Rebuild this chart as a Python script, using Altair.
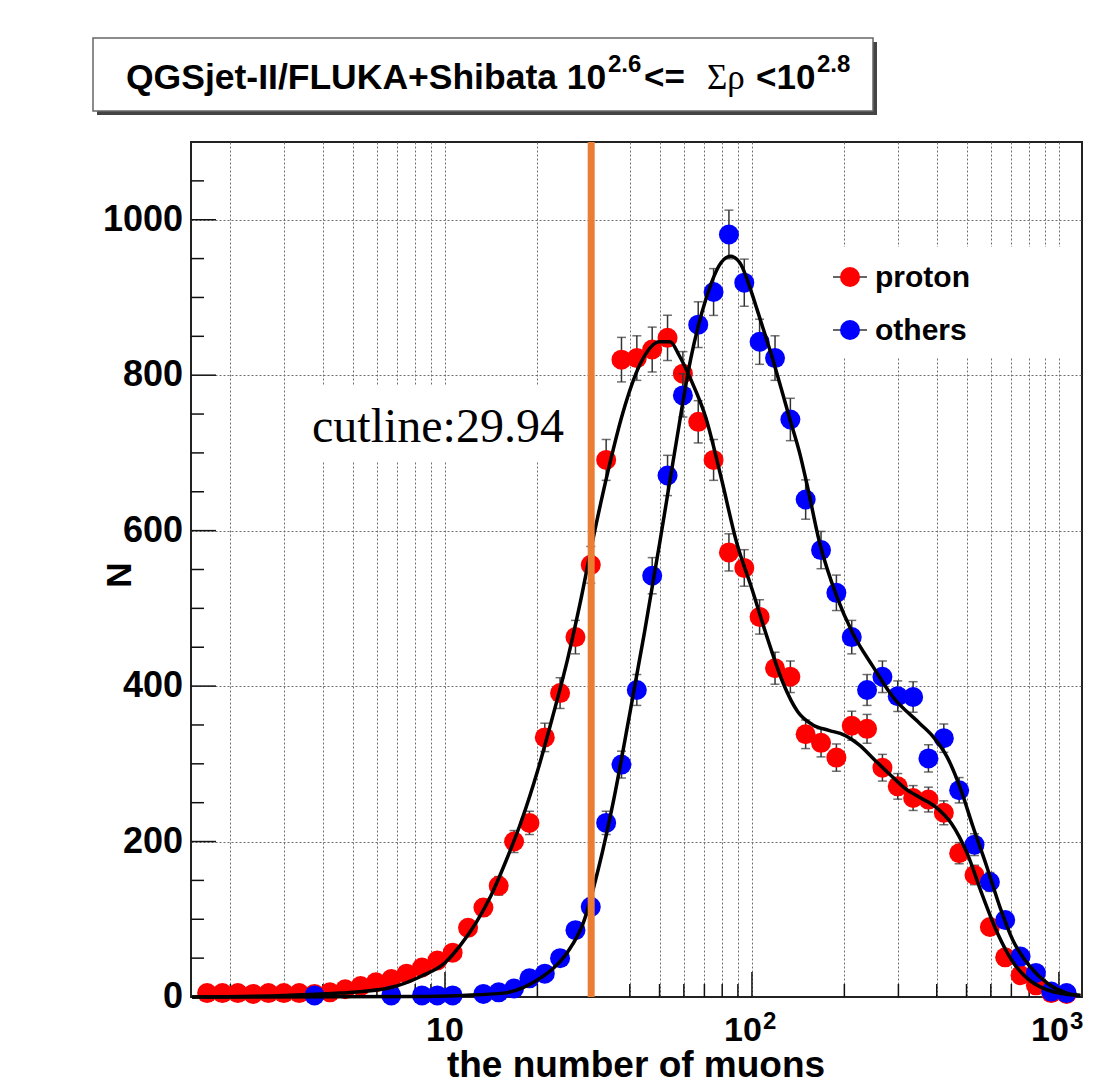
import altair as alt
import pandas as pd

# ---------------- data ----------------
bin_centers = [1.679, 1.884, 2.114, 2.371, 2.661, 2.985, 3.350, 3.758, 4.217, 4.732,
               5.309, 5.957, 6.683, 7.499, 8.414, 9.441,
               10.59, 11.89, 13.34, 14.96, 16.79, 18.84, 21.14, 23.71, 26.61, 29.85,
               33.50, 37.58, 42.17, 47.32, 53.09, 59.57, 66.83, 74.99, 84.14, 94.41,
               105.9, 118.9, 133.4, 149.6, 167.9, 188.4, 211.4, 237.1, 266.1, 298.5,
               335.0, 375.8, 421.7, 473.2, 530.9, 595.7, 668.3, 749.9, 841.4, 944.1,
               1059.0]

proton_counts = [5, 5, 5, 4, 5, 5, 5, 4, 6, 10,
                 14, 19, 23, 30, 38, 47,
                 57, 89, 115, 143, 200, 224, 334, 391, 463, 556,
                 691, 820, 822, 833, 848, 802, 740, 691, 572, 552,
                 489, 423, 412, 338, 327, 308, 349, 345, 295, 271,
                 256, 254, 237, 185, 157, 90, 51, 28, 15, 5,
                 4]

others_counts = [None, None, None, None, None, None, None, 2, None, None,
                 None, None, 2, None, 2, 2,
                 2, None, 4, 6, 11, 24, 30, 50, 86, 116,
                 224, 299, 395, 542, 671, 774, 865, 907, 981, 919,
                 843, 822, 743, 640, 575, 520, 463, 395, 412, 387,
                 386, 307, 333, 266, 196, 148, 99, 52, 31, 7,
                 5]

proton_fit_x = [1.5, 3.0, 4.55, 6.62, 8.4, 10.0, 11.2, 12.6, 14.1, 15.8, 17.8, 20.0,
                22.4, 25.1, 27.5, 30.2, 33.9, 38.0, 43.2, 50.1, 54.1, 58.0, 63.1,
                70.8, 79.4, 89.1, 100, 112, 126, 141, 158, 178, 200, 224, 251, 282,
                316, 355, 398, 447, 501, 562, 631, 708, 794, 891, 1000, 1175]
proton_fit_n = [0, 2, 5, 12, 27, 44, 66, 95, 130, 175, 228, 290,
                360, 435, 505, 585, 675, 752, 814, 843, 843, 825, 795,
                745, 668, 585, 525, 463, 405, 367, 350, 343, 337, 324, 305, 286,
                268, 256, 244, 223, 186, 132, 82, 45, 23, 11, 5, 2]

others_fit_x = [1.5, 8.0, 11.4, 15.5, 20.0, 22.4, 25.1, 28.2, 31.6, 35.5, 39.8, 44.7,
                50.1, 56.2, 63.1, 70.8, 79.4, 85.1, 91.2, 100, 104, 117, 133, 143,
                151, 166, 189, 213, 248, 288, 352, 389, 432, 476, 525, 583, 642,
                708, 805, 915, 1062, 1175]
others_fit_n = [0, 0.5, 2, 5, 22, 36, 58, 95, 165, 255, 360, 470,
                585, 705, 820, 898, 945, 953, 945, 905, 884, 820, 743, 700,
                660, 585, 515, 468, 425, 386, 352, 335, 309, 270, 219, 167, 116,
                73, 39, 18, 5, 2]

cut_value = 29.94
series_names = ["proton", "others"]
series_colors = ["#FF0000", "#0000FF"]

x_grid = [2, 3, 4, 5, 6, 7, 8, 9, 10, 20, 30, 40, 50, 60, 70, 80, 90,
          100, 200, 300, 400, 500, 600, 700, 800, 900, 1000]
x_major = [10, 100, 1000]
x_minor = [2, 3, 4, 5, 6, 7, 8, 9, 20, 30, 40, 50, 60, 70, 80, 90,
           200, 300, 400, 500, 600, 700, 800, 900]
x_label_plain = [10]
x_label_supbase = [100, 1000]
x_label_sup = ["2", "3"]
y_major = [0, 200, 400, 600, 800, 1000]
y_labels = ["0", "200", "400", "600", "800", "1000"]
y_minor = [50, 100, 150, 250, 300, 350, 450, 500, 550, 650, 700, 750,
           850, 900, 950, 1050]

title_main = "QGSjet-II/FLUKA+Shibata 10"
title_sup1 = "2.6"
title_mid = "<="
title_greek = "\u03a3\u03c1"
title_end = "<10"
title_sup2 = "2.8"
x_title = "the number of muons"
y_title = "N"

# ---------------- styling ----------------
W, H = 891, 855
SANS = "Liberation Sans"
SERIF = "Liberation Serif"
X_SCALE = alt.Scale(type="log", domain=[1.488, 1189], nice=False)
Y_SCALE = alt.Scale(domain=[0, 1100], nice=False, zero=False)
X_AXIS = alt.Axis(values=x_grid, grid=True, gridDash=[2, 2], gridColor="#6e6e6e",
                  gridWidth=1, labels=False, ticks=False, domain=False, title=None)
Y_AXIS = alt.Axis(values=y_major[1:], grid=True, gridDash=[2, 2], gridColor="#6e6e6e",
                  gridWidth=1, labels=False, ticks=False, domain=False, title=None)


def xq(f):
    return alt.X(f"{f}:Q", scale=X_SCALE, axis=X_AXIS)


def yq(f):
    return alt.Y(f"{f}:Q", scale=Y_SCALE, axis=Y_AXIS)


def series_df(counts):
    rows = [{"x": x, "N": n} for x, n in zip(bin_centers, counts) if n is not None]
    return pd.DataFrame(rows)


one = pd.DataFrame({"k": [0]})
MARKER = 400

layers = []

# white boxes behind the text / legend (hide grid)
layers.append(alt.Chart(one).mark_rect(color="white").encode(
    x=alt.value(125), x2=alt.value(397), y=alt.value(244), y2=alt.value(320)))
layers.append(alt.Chart(one).mark_rect(color="white").encode(
    x=alt.value(634), x2=alt.value(885), y=alt.value(105), y2=alt.value(215)))

# ticks (inside the frame)
layers.append(alt.Chart(pd.DataFrame({"v": y_major})).mark_rule(color="#111", strokeWidth=1.5).encode(
    y=yq("v"), x=alt.value(0), x2=alt.value(25)))
layers.append(alt.Chart(pd.DataFrame({"v": y_minor})).mark_rule(color="#111", strokeWidth=1.5).encode(
    y=yq("v"), x=alt.value(0), x2=alt.value(13)))
layers.append(alt.Chart(pd.DataFrame({"v": x_major})).mark_rule(color="#111", strokeWidth=1.5).encode(
    x=xq("v"), y=alt.value(H - 25), y2=alt.value(H)))
layers.append(alt.Chart(pd.DataFrame({"v": x_minor})).mark_rule(color="#111", strokeWidth=1.5).encode(
    x=xq("v"), y=alt.value(H - 13), y2=alt.value(H)))

# data: error bars + markers for each series
for name, counts, color in zip(series_names, [proton_counts, others_counts], series_colors):
    base = alt.Chart(series_df(counts)).transform_calculate(
        lo="datum.N - sqrt(datum.N)", hi="datum.N + sqrt(datum.N)")
    layers.append(base.mark_rule(color="#333", strokeWidth=1.5).encode(
        x=xq("x"), y=yq("lo"), y2=alt.Y2("hi")))
    layers.append(base.mark_tick(orient="horizontal", size=9, thickness=1.5, color="#333").encode(
        x=xq("x"), y=yq("lo")))
    layers.append(base.mark_tick(orient="horizontal", size=9, thickness=1.5, color="#333").encode(
        x=xq("x"), y=yq("hi")))
    layers.append(base.mark_circle(size=MARKER, color=color, opacity=1).encode(
        x=xq("x"), y=yq("N")))

# fit curves
for fx, fn in [(proton_fit_x, proton_fit_n), (others_fit_x, others_fit_n)]:
    layers.append(alt.Chart(pd.DataFrame({"x": fx, "N": fn})).mark_line(
        color="black", strokeWidth=3.5, interpolate="monotone").encode(x=xq("x"), y=yq("N")))

# cut line
layers.append(alt.Chart(pd.DataFrame({"x": [cut_value]})).mark_rule(
    color="#EB7D32", strokeWidth=7).encode(x=xq("x")))
layers.append(alt.Chart(one).mark_text(
    font=SERIF, fontSize=48, align="left", baseline="alphabetic", color="black",
    text=f"cutline:{cut_value}").encode(x=alt.value(121), y=alt.value(300)))

# axis labels
layers.append(alt.Chart(pd.DataFrame({"v": y_major, "t": y_labels})).mark_text(
    font=SANS, fontSize=36, fontWeight="bold", align="right", baseline="middle", color="black").encode(
    y=yq("v"), x=alt.value(-8), text="t:N"))
layers.append(alt.Chart(pd.DataFrame({"v": x_label_plain})).mark_text(
    font=SANS, fontSize=34, fontWeight="bold", align="center", baseline="alphabetic",
    color="black", text="10").encode(x=xq("v"), y=alt.value(899)))
layers.append(alt.Chart(pd.DataFrame({"v": x_label_supbase})).mark_text(
    font=SANS, fontSize=34, fontWeight="bold", align="center", baseline="alphabetic",
    color="black", text="10", dx=-9).encode(x=xq("v"), y=alt.value(899)))
layers.append(alt.Chart(pd.DataFrame({"v": x_label_supbase, "t": x_label_sup})).mark_text(
    font=SANS, fontSize=24, fontWeight="bold", align="left", baseline="alphabetic",
    color="black", dx=11).encode(x=xq("v"), y=alt.value(887), text="t:N"))

# axis titles
layers.append(alt.Chart(one).mark_text(
    font=SANS, fontSize=37, fontWeight="bold", align="center", baseline="alphabetic",
    color="black", text=x_title).encode(x=alt.value(445), y=alt.value(935)))
layers.append(alt.Chart(one).mark_text(
    font=SANS, fontSize=35, fontWeight="bold", align="center", baseline="middle",
    color="black", angle=270, text=y_title).encode(x=alt.value(-71), y=alt.value(433)))

# legend
for i, (name, color) in enumerate(zip(series_names, series_colors)):
    yy = 135 + 53 * i
    leg = alt.Chart(pd.DataFrame({"t": [name]}))
    layers.append(leg.mark_rule(color="#333", strokeWidth=1.5).encode(
        x=alt.value(642), x2=alt.value(676), y=alt.value(yy)))
    layers.append(leg.mark_circle(size=MARKER, color=color, opacity=1).encode(
        x=alt.value(659), y=alt.value(yy)))
    layers.append(leg.mark_text(font=SANS, fontSize=30, fontWeight="bold", align="left",
                                baseline="middle", color="black").encode(
        x=alt.value(684), y=alt.value(yy + 1), text="t:N"))

# title box
layers.append(alt.Chart(one).mark_rect(color="#444").encode(
    x=alt.value(-94), x2=alt.value(686), y=alt.value(-100), y2=alt.value(-27)))
layers.append(alt.Chart(one).mark_rect(fill="white", stroke="#666", strokeWidth=1.5).encode(
    x=alt.value(-98), x2=alt.value(682), y=alt.value(-104), y2=alt.value(-31)))
title_pieces = [
    (title_main, -65, -53, 35.5, SANS, "bold"),
    (title_sup1, 417, -70, 24, SANS, "bold"),
    (title_mid, 453, -53, 35, SANS, "bold"),
    (title_greek, 516, -53, 35, SERIF, "normal"),
    (title_end, 565, -53, 35, SANS, "bold"),
    (title_sup2, 626, -70, 24, SANS, "bold"),
]
for txt, px, py, fs, fnt, fw in title_pieces:
    layers.append(alt.Chart(pd.DataFrame({"t": [txt]})).mark_text(
        font=fnt, fontSize=fs, fontWeight=fw, align="left", baseline="alphabetic",
        color="black").encode(x=alt.value(px), y=alt.value(py), text="t:N"))

chart = alt.layer(*layers).properties(
    width=W, height=H,
    autosize=alt.AutoSizeParams(type="none"),
    padding={"left": 191, "top": 142, "right": 26, "bottom": 87},
    background="white",
).configure_view(stroke="#222", strokeWidth=2)

chart.save("out.html", embed_options={"renderer": "svg", "actions": False})
